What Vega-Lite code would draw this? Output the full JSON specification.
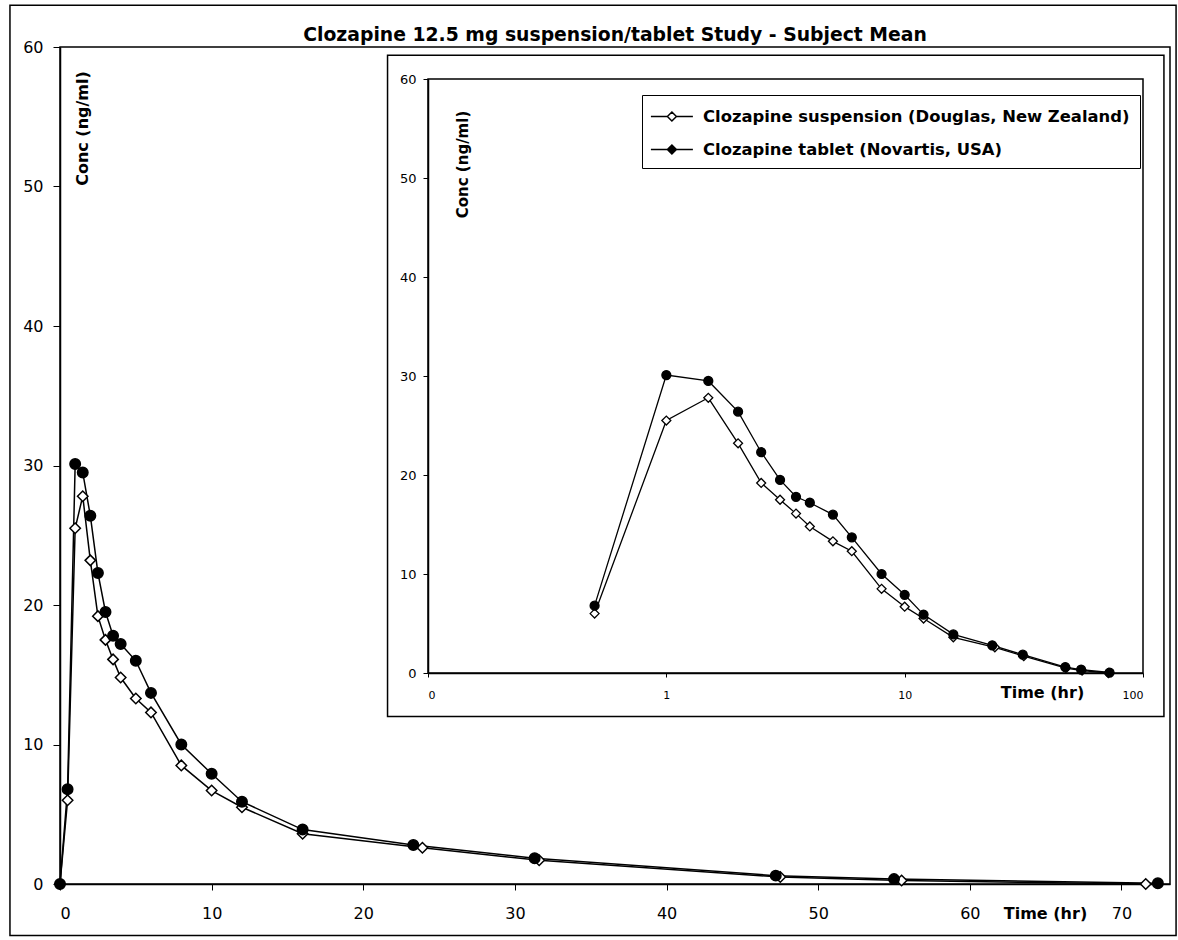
{
  "$schema": "https://vega.github.io/schema/vega-lite/v6.json",
  "width": 1110,
  "height": 837,
  "autosize": {"type": "none"},
  "padding": {"left": 60, "top": 47, "right": 8, "bottom": 56},
  "background": "white",
  "title": {
    "text": "Clozapine 12.5 mg suspension/tablet Study - Subject Mean",
    "font": "DejaVu Sans",
    "fontSize": 18.8,
    "fontWeight": "bold",
    "anchor": "middle",
    "offset": -40,
    "color": "black"
  },
  "config": {
    "font": "DejaVu Sans",
    "view": {"stroke": "black", "strokeWidth": 1.5},
    "axis": {
      "grid": false,
      "domainColor": "black",
      "domainWidth": 1.5,
      "tickColor": "black",
      "labelColor": "black",
      "titleColor": "black",
      "labelFont": "DejaVu Sans",
      "titleFont": "DejaVu Sans"
    }
  },
  "data": {
    "values": [
      {"t": 0, "c": 0, "f": "Clozapine suspension (Douglas, New Zealand)"},
      {"t": 0.5, "c": 6.0, "f": "Clozapine suspension (Douglas, New Zealand)"},
      {"t": 1, "c": 25.5, "f": "Clozapine suspension (Douglas, New Zealand)"},
      {"t": 1.5, "c": 27.8, "f": "Clozapine suspension (Douglas, New Zealand)"},
      {"t": 2, "c": 23.2, "f": "Clozapine suspension (Douglas, New Zealand)"},
      {"t": 2.5, "c": 19.2, "f": "Clozapine suspension (Douglas, New Zealand)"},
      {"t": 3, "c": 17.5, "f": "Clozapine suspension (Douglas, New Zealand)"},
      {"t": 3.5, "c": 16.1, "f": "Clozapine suspension (Douglas, New Zealand)"},
      {"t": 4, "c": 14.8, "f": "Clozapine suspension (Douglas, New Zealand)"},
      {"t": 5, "c": 13.3, "f": "Clozapine suspension (Douglas, New Zealand)"},
      {"t": 6, "c": 12.3, "f": "Clozapine suspension (Douglas, New Zealand)"},
      {"t": 8, "c": 8.5, "f": "Clozapine suspension (Douglas, New Zealand)"},
      {"t": 10, "c": 6.7, "f": "Clozapine suspension (Douglas, New Zealand)"},
      {"t": 12, "c": 5.5, "f": "Clozapine suspension (Douglas, New Zealand)"},
      {"t": 16, "c": 3.6, "f": "Clozapine suspension (Douglas, New Zealand)"},
      {"t": 23.9, "c": 2.6, "f": "Clozapine suspension (Douglas, New Zealand)"},
      {"t": 31.6, "c": 1.7, "f": "Clozapine suspension (Douglas, New Zealand)"},
      {"t": 47.5, "c": 0.5, "f": "Clozapine suspension (Douglas, New Zealand)"},
      {"t": 55.5, "c": 0.25, "f": "Clozapine suspension (Douglas, New Zealand)"},
      {"t": 71.6, "c": 0.0, "f": "Clozapine suspension (Douglas, New Zealand)"},
      {"t": 0, "c": 0, "f": "Clozapine tablet (Novartis, USA)"},
      {"t": 0.5, "c": 6.8, "f": "Clozapine tablet (Novartis, USA)"},
      {"t": 1, "c": 30.1, "f": "Clozapine tablet (Novartis, USA)"},
      {"t": 1.5, "c": 29.5, "f": "Clozapine tablet (Novartis, USA)"},
      {"t": 2, "c": 26.4, "f": "Clozapine tablet (Novartis, USA)"},
      {"t": 2.5, "c": 22.3, "f": "Clozapine tablet (Novartis, USA)"},
      {"t": 3, "c": 19.5, "f": "Clozapine tablet (Novartis, USA)"},
      {"t": 3.5, "c": 17.8, "f": "Clozapine tablet (Novartis, USA)"},
      {"t": 4, "c": 17.2, "f": "Clozapine tablet (Novartis, USA)"},
      {"t": 5, "c": 16.0, "f": "Clozapine tablet (Novartis, USA)"},
      {"t": 6, "c": 13.7, "f": "Clozapine tablet (Novartis, USA)"},
      {"t": 8, "c": 10.0, "f": "Clozapine tablet (Novartis, USA)"},
      {"t": 10, "c": 7.9, "f": "Clozapine tablet (Novartis, USA)"},
      {"t": 12, "c": 5.9, "f": "Clozapine tablet (Novartis, USA)"},
      {"t": 16, "c": 3.9, "f": "Clozapine tablet (Novartis, USA)"},
      {"t": 23.3, "c": 2.8, "f": "Clozapine tablet (Novartis, USA)"},
      {"t": 31.3, "c": 1.85, "f": "Clozapine tablet (Novartis, USA)"},
      {"t": 47.2, "c": 0.6, "f": "Clozapine tablet (Novartis, USA)"},
      {"t": 55.0, "c": 0.35, "f": "Clozapine tablet (Novartis, USA)"},
      {"t": 72.4, "c": 0.05, "f": "Clozapine tablet (Novartis, USA)"}
    ]
  },
  "layer": [
    {
      "layer": [
        {
          "data": {"values": [{}]},
          "mark": {"type": "rect", "fill": null, "fillOpacity": 0, "stroke": "black", "strokeWidth": 1.5},
          "encoding": {
            "x": {"datum": -3.3, "type": "quantitative", "scale": {"domain": [0, 73.2]}},
            "x2": {"datum": 73.6},
            "y": {"datum": -3.7, "type": "quantitative", "scale": {"domain": [0, 60]}},
            "y2": {"datum": 63.0}
          }
        },
        {
          "data": {"values": [{}]},
          "mark": {"type": "rect", "fill": null, "fillOpacity": 0, "stroke": "black", "strokeWidth": 1.5},
          "encoding": {
            "x": {"datum": 21.6, "type": "quantitative"},
            "x2": {"datum": 72.8},
            "y": {"datum": 12.0, "type": "quantitative"},
            "y2": {"datum": 59.4}
          }
        },
        {
          "mark": {"type": "line", "stroke": "black", "strokeWidth": 1.5},
          "encoding": {
            "x": {
              "field": "t", "type": "quantitative",
              "scale": {"domain": [0, 73.2], "nice": false, "zero": false},
              "axis": {
                "values": [0, 10, 20, 30, 40, 50, 60, 70],
                "labelFontSize": 16,
                "tickSize": 6,
                "labelPadding": 15,
                "title": "Time (hr)",
                "titleFontSize": 16,
                "titleFontWeight": "bold",
                "titleX": 985,
                "titleY": 29,
                "titleAlign": "center",
                "titleBaseline": "middle"
              }
            },
            "y": {
              "field": "c", "type": "quantitative",
              "scale": {"domain": [0, 60], "nice": false},
              "axis": {
                "values": [0, 10, 20, 30, 40, 50, 60],
                "labelFontSize": 16,
                "tickSize": 7,
                "labelPadding": 10,
                "title": "Conc (ng/ml)",
                "titleFontSize": 16,
                "titleFontWeight": "bold",
                "titleAngle": -90,
                "titleX": 22,
                "titleY": 81,
                "titleAlign": "center",
                "titleBaseline": "middle"
              }
            },
            "detail": {"field": "f"}
          }
        },
        {
          "mark": {"type": "point", "filled": true, "stroke": "black", "strokeWidth": 1.5, "opacity": 1, "size": 110},
          "encoding": {
            "x": {"field": "t", "type": "quantitative"},
            "y": {"field": "c", "type": "quantitative"},
            "fill": {
              "field": "f", "type": "nominal",
              "scale": {"domain": ["Clozapine suspension (Douglas, New Zealand)", "Clozapine tablet (Novartis, USA)"], "range": ["white", "black"]},
              "legend": {
                "orient": "none",
                "legendX": 582,
                "legendY": 48,
                "title": null,
                "zindex": 2,
                "strokeColor": "black",
                "fillColor": "white",
                "padding": 10,
                "labelFont": "DejaVu Sans",
                "labelFontSize": 16.4,
                "labelFontWeight": "bold",
                "labelColor": "black",
                "labelLimit": 700,
                "labelOffset": 28,
                "rowPadding": 13,
                "symbolType": "M-1.2,0H0.37M1.23,0H2.8M0.8,-0.43L1.23,0L0.8,0.43L0.37,0Z",
                "symbolSize": 441,
                "symbolStrokeColor": "black",
                "symbolStrokeWidth": 1.5
              }
            },
            "shape": {
              "condition": {"test": "datum.f === 'Clozapine tablet (Novartis, USA)'", "value": "circle"},
              "value": "diamond"
            }
          }
        }
      ]
    },
    {
      "transform": [{"filter": "datum.t > 0"}],
      "layer": [
        {
          "data": {"values": [{}]},
          "mark": {"type": "rect", "fill": null, "fillOpacity": 0, "stroke": "black", "strokeWidth": 1.5},
          "encoding": {
            "x": {"datum": 0.1, "type": "quantitative", "scale": {"type": "log", "domain": [0.1, 100], "range": [368, 1083]}},
            "x2": {"datum": 100},
            "y": {"datum": 0, "type": "quantitative", "scale": {"domain": [0, 60], "range": [626, 32]}},
            "y2": {"datum": 60}
          }
        },
        {
          "mark": {"type": "line", "stroke": "black", "strokeWidth": 1.3},
          "encoding": {
            "x": {
              "field": "t", "type": "quantitative",
              "axis": {
                "orient": "bottom",
                "offset": -211,
                "zindex": 2,
                "values": [0.1, 1, 10, 100],
                "labelExpr": "datum.value < 0.5 ? '0' : datum.value + ''",
                "labelFontSize": 11,
                "tickSize": 4,
                "labelPadding": 12,
                "domainWidth": 1.5,
                "title": "Time (hr)",
                "titleFontSize": 16,
                "titleFontWeight": "bold",
                "titleX": 982,
                "titleY": 19,
                "titleAlign": "center",
                "titleBaseline": "middle"
              }
            },
            "y": {
              "field": "c", "type": "quantitative",
              "axis": {
                "orient": "left",
                "offset": -368,
                "zindex": 2,
                "values": [0, 10, 20, 30, 40, 50, 60],
                "labelFontSize": 13,
                "tickSize": 5,
                "labelPadding": 7,
                "title": "Conc (ng/ml)",
                "titleFontSize": 15,
                "titleFontWeight": "bold",
                "titleAngle": -90,
                "titleX": 34,
                "titleY": 117,
                "titleAlign": "center",
                "titleBaseline": "middle"
              }
            },
            "detail": {"field": "f"}
          }
        },
        {
          "mark": {"type": "point", "filled": true, "stroke": "black", "strokeWidth": 1.3, "opacity": 1, "size": 80},
          "encoding": {
            "x": {"field": "t", "type": "quantitative"},
            "y": {"field": "c", "type": "quantitative"},
            "fill": {"field": "f", "type": "nominal"},
            "shape": {
              "condition": {"test": "datum.f === 'Clozapine tablet (Novartis, USA)'", "value": "circle"},
              "value": "diamond"
            }
          }
        }
      ]
    }
  ],
  "resolve": {"scale": {"x": "independent", "y": "independent"}, "axis": {"x": "independent", "y": "independent"}}
}
